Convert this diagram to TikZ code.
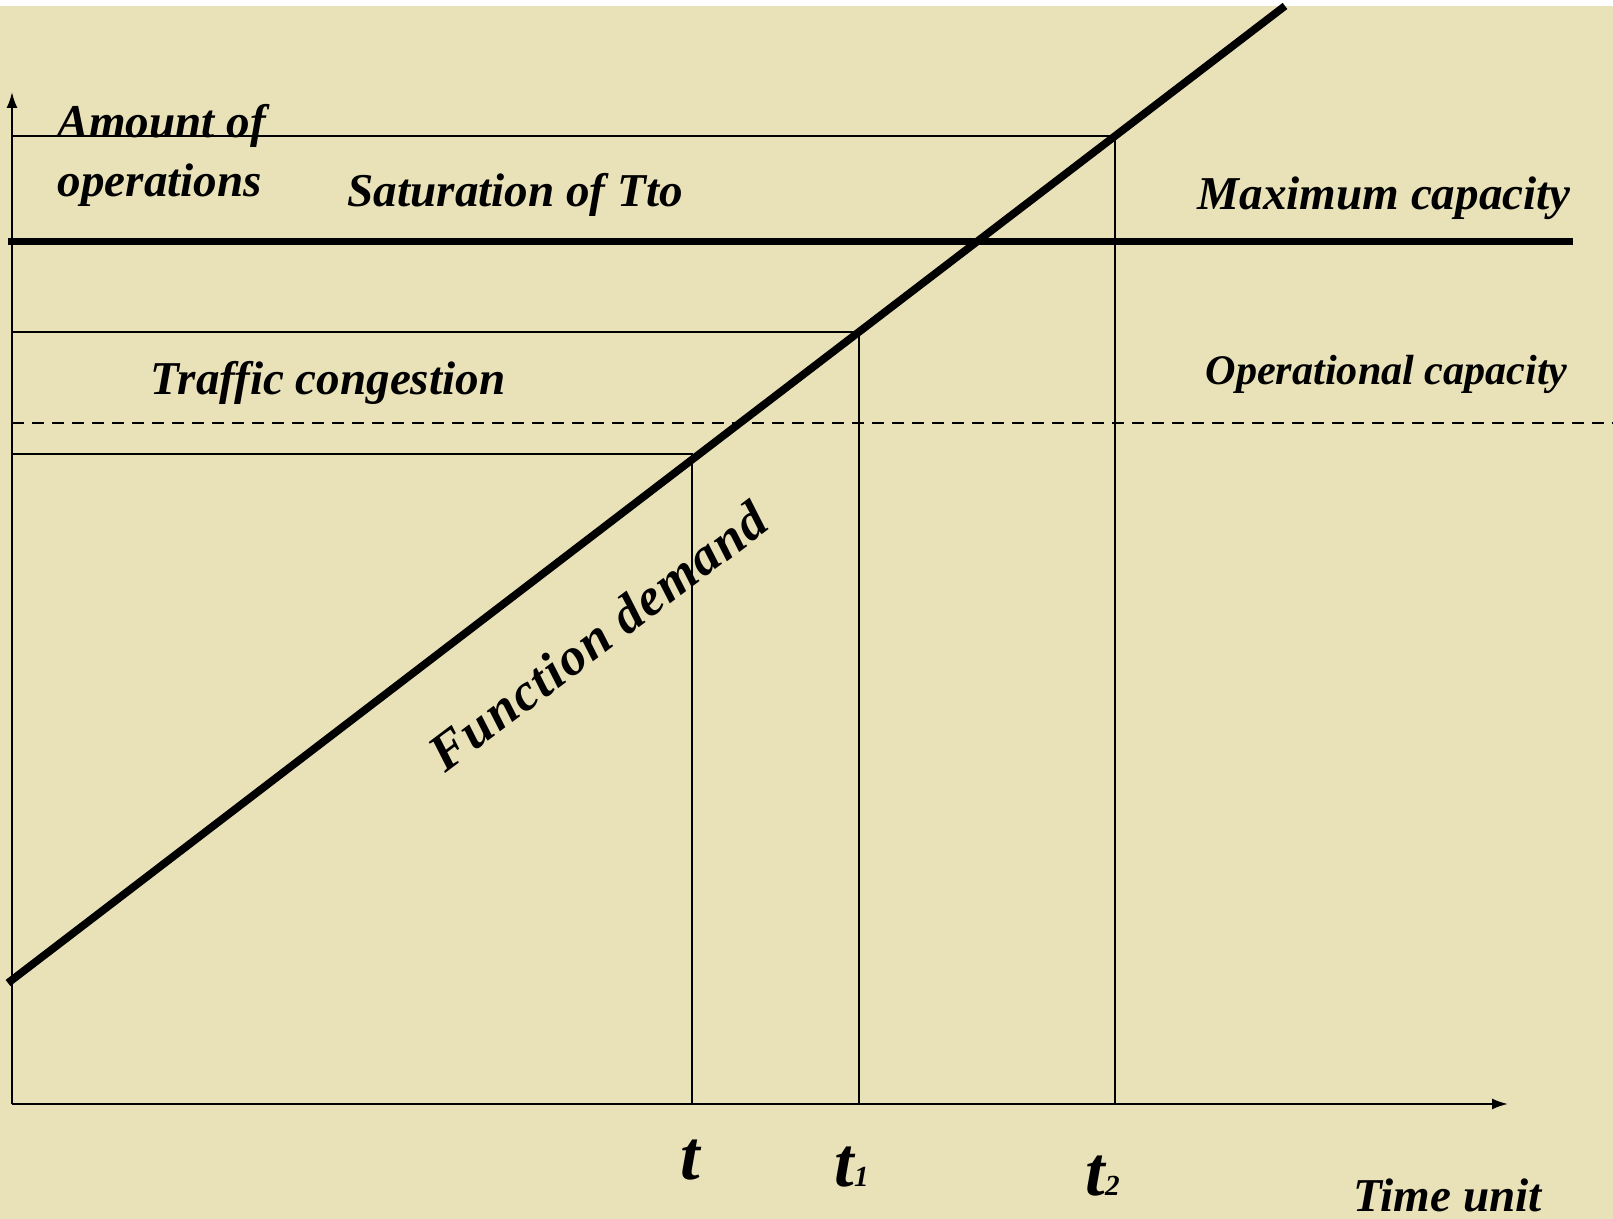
\documentclass[tikz,border=0pt]{standalone}
\usepackage{fontspec}
\setmainfont{Liberation Serif}
\usetikzlibrary{arrows.meta}
\definecolor{paper}{RGB}{233,226,184}
\tikzset{
  thin line/.style={line width=0.6pt},
  thick line/.style={line width=2.2pt},
  axis/.style={line width=0.6pt,-{Latex[length=0.16cm,width=0.11cm]}},
  lbl/.style={inner sep=0pt,anchor=base west,font=\fontsize{13.4}{15}\selectfont\bfseries\itshape},
  tlbl/.style={inner sep=0pt,anchor=base west,font=\fontsize{20}{22}\selectfont\bfseries\itshape}
}

\begin{document}
\begin{tikzpicture}
        \useasboundingbox (0,0) rectangle (16.13,12.19);
        \fill[white] (0,0) rectangle (16.13,12.19);
        \fill[paper] (0,0) rectangle (16.13,12.13);
        \coordinate (o) at (0.12,1.15);
        \coordinate (ytop) at (0.12,11.27);
        \coordinate (xend) at (15.08,1.15);
        \coordinate (d0) at (0.08,2.36);
        \coordinate (d1) at (12.85,12.13);
        \coordinate (m0) at (0.08,9.77);
        \coordinate (m1) at (15.73,9.77);
        \coordinate (op0) at (0.12,7.96);
        \coordinate (op1) at (16.13,7.96);
        \coordinate (h0) at (0.12,7.65);
        \coordinate (c0) at (6.92,7.65);
        \coordinate (b0) at (6.92,1.15);
        \coordinate (h1) at (0.12,8.87);
        \coordinate (c1) at (8.59,8.87);
        \coordinate (b1) at (8.59,1.15);
        \coordinate (h2) at (0.12,10.83);
        \coordinate (c2) at (11.15,10.83);
        \coordinate (b2) at (11.15,1.15);
        \node[lbl] (amount) at (0.57,10.81) {Amount of};
        \node[lbl] (oper) at (0.57,10.22) {operations};
        \node[lbl] (sat) at (3.47,10.12) {Saturation of Tto};
        \node[lbl] (maxc) at (11.97,10.09) {Maximum capacity};
        \node[lbl] (traffic) at (1.50,8.24) {Traffic congestion};
        \node[lbl,font=\fontsize{12}{14}\selectfont\bfseries\itshape] (opc) at (12.05,8.34) {Operational capacity};
        \node[lbl] (tunit) at (13.53,0.07) {Time unit};
        \node[lbl,font=\fontsize{15}{17}\selectfont\bfseries\itshape\addfontfeature{LetterSpace=3},rotate=37] (fdem) at (4.45,4.45) {Function demand};
        \node[tlbl] (t0) at (6.80,0.39) {t};
        \node[tlbl] (t1) at (8.34,0.32) {t{\fontsize{8.3}{9}\selectfont 1}};
        \node[tlbl] (t2) at (10.85,0.23) {t{\fontsize{8.3}{9}\selectfont 2}};
        \draw[axis] (o) -- (ytop);
        \draw[axis] (o) -- (xend);
        \draw[thin line] (h2) -- (c2) -- (b2)
              (h1) -- (c1) -- (b1)
              (h0) -- (c0) -- (b0);
        \draw[thin line,dash pattern=on 0.12cm off 0.08cm] (op0) -- (op1);
        \draw[line width=2pt] (m0) -- (m1);
        \draw[thick line] (d0) -- (d1);
      \end{tikzpicture}
\end{document}
